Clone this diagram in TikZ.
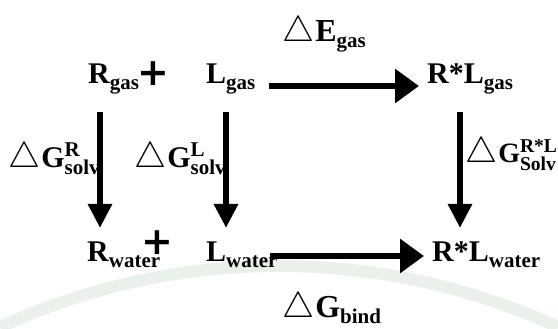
\documentclass[tikz,border=0pt]{standalone}
\usepackage{fontspec}
\setmainfont{Liberation Serif}
\newfontfamily\plusfont{DejaVu Sans}
\usepackage{amsmath}
\usetikzlibrary{arrows.meta, positioning}
\definecolor{fadegreen}{RGB}{234,241,234}

\newcommand{\spec}[2]{#1\raisebox{-6pt}{\fontsize{21}{21}\selectfont #2}}
\newcommand{\delt}{\scalebox{1.45}{$\triangle$}\hspace{1pt}}

\begin{document}
\begin{tikzpicture}[x=1pt, y=1pt,
    every node/.style={inner sep=0pt, font=\fontsize{30}{36}\selectfont\bfseries},
    harrow/.style={line width=6.5pt, -{Triangle[length=24pt,width=33pt]}},
    varrow/.style={line width=6pt, -{Triangle[length=24pt,width=23pt]}},
    plus/.style={font=\fontsize{38}{38}\selectfont\bfseries\plusfont}]
        \useasboundingbox (0,0) rectangle (558,329);

        % Faint arc in the background
        \draw[fadegreen, line width=12pt] (0,2) arc[start angle=114.67, end angle=65.33, radius=668.5];

        % Species
        \node[anchor=base west] (Rgas) at (88,245) {\spec{R}{gas}};
        \node[plus] (plusgas) at (153,255) {+};
        \node[anchor=base west] (Lgas) at (206,245) {\spec{L}{gas}};
        \node[anchor=base west] (RLgas) at (427,245) {\spec{R*L}{gas}};
        \node[anchor=base west] (Rwater) at (87,67) {\spec{R}{water}};
        \node[plus] (pluswater) at (157,86) {+};
        \node[anchor=base west] (Lwater) at (206,67) {\spec{L}{water}};
        \node[anchor=base west] (RLwater) at (432,67) {\spec{R*L}{water}};

        % Energies
        \node[anchor=base west, font=\fontsize{32}{36}\selectfont\bfseries] (Egas) at (282,287) {\delt\spec{E}{gas}};
        \node[anchor=base west] (GsolvR) at (8,161) {\delt$\text{G}^{\text{R}}_{\text{solv}}$};
        \node[anchor=base west] (GsolvL) at (134,161) {\delt$\text{G}^{\text{L}}_{\text{solv}}$};
        \node[anchor=base west, font=\fontsize{28}{34}\selectfont\bfseries] (GsolvRL) at (465,166) {\delt$\text{G}^{\text{R*L}}_{\text{Solv}}$};
        \node[anchor=base west, font=\fontsize{32}{36}\selectfont\bfseries] (Gbind) at (282,11) {\delt\spec{G}{bind}};

        % Arrows
        \draw[harrow] ([xshift=13pt,yshift=-2pt]Lgas.base east) -- ([xshift=-8pt,yshift=-2pt]RLgas.base west);
        \draw[harrow] ([xshift=-8pt,yshift=6pt]Lwater.base east) -- ([xshift=-8pt,yshift=6pt]RLwater.base west);
        \draw[varrow] ([xshift=12pt,yshift=-28pt]Rgas.base west) -- ([xshift=13pt,yshift=34pt]Rwater.base west);
        \draw[varrow] ([xshift=20pt,yshift=-28pt]Lgas.base west) -- ([xshift=20pt,yshift=34pt]Lwater.base west);
        \draw[varrow] ([xshift=33pt,yshift=-28pt]RLgas.base west) -- ([xshift=28pt,yshift=34pt]RLwater.base west);
    \end{tikzpicture}
\end{document}
